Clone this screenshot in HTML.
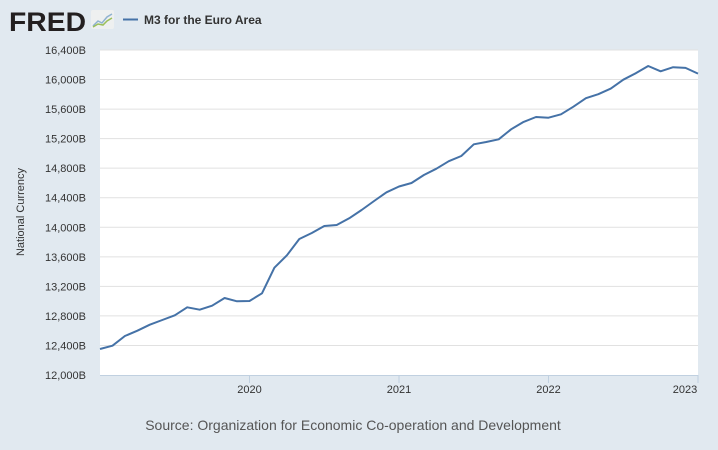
<!DOCTYPE html>
<html><head><meta charset="utf-8"><style>
body{margin:0;background:#e1e9f0;font-family:"Liberation Sans",Arial,sans-serif}
#wrap{position:relative;width:718px;height:450px;background:#e1e9f0;overflow:hidden}
</style></head><body>
<div id="wrap">
<svg id="chart" width="718" height="450" xmlns="http://www.w3.org/2000/svg">
  <g>
    <text x="9" y="31" font-family="Liberation Sans" font-weight="bold" font-size="27" fill="#231f20" letter-spacing="0" textLength="77" lengthAdjust="spacingAndGlyphs">FRED</text>
    <rect x="91" y="10" width="23" height="19" rx="2" fill="#eef0f0"/>
    <polyline points="93,26 98,21 102,23 107,17 112,14" fill="none" stroke="#8fb2d0" stroke-width="1.5"/>
    <polyline points="93,27 98,24 103,25 107,21 112,18" fill="none" stroke="#9bbf5a" stroke-width="1.5"/>
  </g>
  <g>
    <line x1="123" y1="19.5" x2="138" y2="19.5" stroke="#4572a7" stroke-width="2"/>
    <text x="144" y="24" font-size="12" font-weight="bold" fill="#333">M3 for the Euro Area</text>
  </g>
  <rect x="100" y="50" width="598" height="325" fill="#ffffff"/>
  <g id="grid"></g>
  <g id="yticks"></g>
  <g id="xticks"></g>
  <g id="series"></g>
  <text transform="translate(24,212) rotate(-90)" text-anchor="middle" font-size="11" fill="#333">National Currency</text>
  <text x="353" y="430" text-anchor="middle" font-size="14" fill="#555">Source: Organization for Economic Co-operation and Development</text>
</svg>
</div>
<script>
const yTickValues=[12000,12400,12800,13200,13600,14000,14400,14800,15200,15600,16000,16400];
const yTickLabels=["12,000B","12,400B","12,800B","13,200B","13,600B","14,000B","14,400B","14,800B","15,200B","15,600B","16,000B","16,400B"];
const xTickMonths=[12,24,36,48];
const xTickLabels=["2020","2021","2022","2023"];
const startYear=2019;
const m3Values=[12352,12397,12528,12600,12681,12745,12808,12917,12884,12938,13043,12998,
13002,13106,13453,13621,13841,13923,14017,14031,14122,14234,14356,14474,
14552,14600,14708,14793,14894,14965,15124,15155,15191,15327,15426,15493,
15484,15530,15633,15747,15801,15877,15998,16085,16184,16112,16167,16157,
16080];
const NS="http://www.w3.org/2000/svg";
const L=100,R=698,T=50,B=375,YMIN=12000,YMAX=16400;
const nMonths=m3Values.length-1;
function xS(i){return L+(R-L)*i/nMonths;}
function yS(v){return B-(v-YMIN)/(YMAX-YMIN)*(B-T);}
function mk(tag,attrs,parent){const e=document.createElementNS(NS,tag);for(const k in attrs)e.setAttribute(k,attrs[k]);parent.appendChild(e);return e;}
const grid=document.getElementById('grid'),yt=document.getElementById('yticks'),xt=document.getElementById('xticks'),ser=document.getElementById('series');
yTickValues.forEach((v,i)=>{
  const y=yS(v);
  if(i>0){const g=mk('line',{x1:L,x2:R,y1:y,y2:y,stroke:'#e1e1e1','stroke-width':1},grid);
  
  }
  const t=mk('text',{x:86,y:y+4,'text-anchor':'end','font-size':11,fill:'#333'},yt);
  t.textContent=yTickLabels[i];
  
  
});
mk('line',{x1:L,x2:R,y1:B+0.5,y2:B+0.5,stroke:'#c0d0e0','stroke-width':1},xt);
xTickMonths.forEach((m,i)=>{
  const x=xS(m);
  const tk=mk('line',{x1:x,x2:x,y1:B,y2:B+8,stroke:'#c0d0e0','stroke-width':1},xt);
  
  
  const lx=Math.min(x,685);
  const t=mk('text',{x:lx,y:B+18,'text-anchor':'middle','font-size':11,fill:'#333'},xt);
  t.textContent=xTickLabels[i];
  
  
});
const pts=m3Values.map((v,i)=>xS(i).toFixed(1)+','+yS(v).toFixed(1)).join(' ');
const line=mk('polyline',{points:pts,fill:'none',stroke:'#4572a7','stroke-width':2,'stroke-linejoin':'round'},ser);


</script>
</body></html>
